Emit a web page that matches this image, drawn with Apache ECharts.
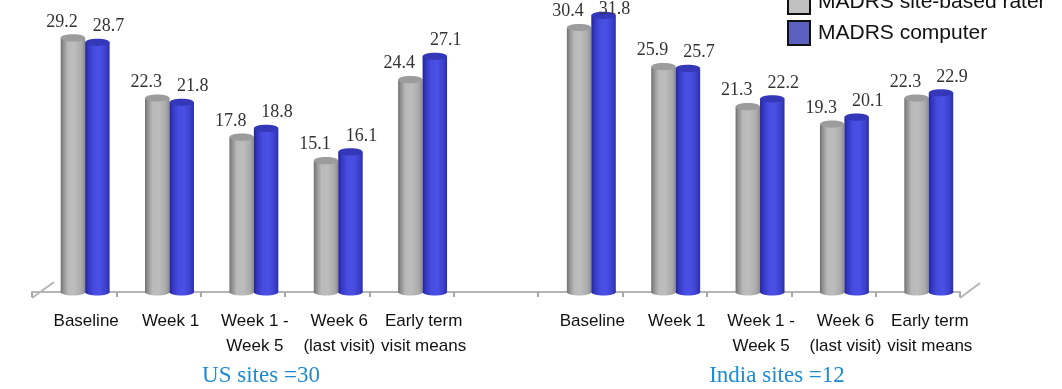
<!DOCTYPE html>
<html>
<head>
<meta charset="utf-8">
<script src="https://cdn.jsdelivr.net/npm/echarts@6/dist/echarts.min.js"></script>
<style>
  html, body { margin: 0; padding: 0; background: #ffffff; }
  #chart { width: 1062px; height: 389px; }
</style>
</head>
<body>
<div id="chart"></div>
<script>
// MADRS scores by visit, site-based rater vs. computer administered
const categories = ['Baseline', 'Week 1', 'Week 1 -\nWeek 5', 'Week 6\n(last visit)', 'Early term\nvisit means'];
const usRater = [29.2, 22.3, 17.8, 15.1, 24.4];
const usComputer = [28.7, 21.8, 18.8, 16.1, 27.1];
const indiaRater = [30.4, 25.9, 21.3, 19.3, 22.3];
const indiaComputer = [31.8, 25.7, 22.2, 20.1, 22.9];
const groupTitles = ['US sites =30', 'India sites =12'];
const seriesNames = ['MADRS site-based rater', 'MADRS computer'];

// One shared category axis: US block, an empty spacer slot, then the India block
const axisCategories = categories.concat([''], categories);
const indiaStart = categories.length + 1;

function toPairs(us, india) {
  return us.map((v, i) => [i, v]).concat(india.map((v, i) => [i + indiaStart, v]));
}

const palettes = [
  {
    body: [
      [0, '#6f6f6f'], [0.1, '#8e8e8e'], [0.3, '#b9b9b9'], [0.55, '#bdbdbd'],
      [0.85, '#aaaaaa'], [1, '#8a8a8a']
    ],
    top: '#9c9c9c',
    legend: '#c0c0c0'
  },
  {
    body: [
      [0, '#23238f'], [0.12, '#3336c0'], [0.35, '#474ce0'], [0.6, '#4a50e4'],
      [0.85, '#3c40cc'], [1, '#2c2ea6']
    ],
    top: '#3337b8',
    legend: '#5b60c0'
  }
];

// Draws a shaded cylinder seated half-way into the floor depth
function cylinder(side) {
  const pal = palettes[side];
  return function (params, api) {
    const idx = api.value(0);
    const val = api.value(1);
    const top = api.coord([idx, val]);
    const base = api.coord([idx, 0]);
    const band = api.size([1, 0])[0];
    const w = band * 0.29;
    const depth = band * 0.13;
    const cx = top[0] + depth + (side === 0 ? -w / 2 : w / 2);
    const ry = 3.6;
    const grad = () => new echarts.graphic.LinearGradient(0, 0, 1, 0,
      pal.body.map(s => ({ offset: s[0], color: s[1] })));
    const labelY = Math.max(top[1] - 16, 9);
    return {
      type: 'group',
      children: [
        { type: 'ellipse', shape: { cx: cx, cy: base[1], rx: w / 2, ry: ry }, style: { fill: grad() } },
        { type: 'rect', shape: { x: cx - w / 2, y: top[1], width: w, height: base[1] - top[1] }, style: { fill: grad() } },
        { type: 'ellipse', shape: { cx: cx, cy: top[1], rx: w / 2, ry: ry }, style: { fill: pal.top } },
        {
          type: 'text',
          x: cx + (side === 0 ? -11 : 11),
          y: labelY,
          style: {
            text: val.toFixed(1),
            align: 'center',
            verticalAlign: 'middle',
            font: '18px "Liberation Serif", "DejaVu Serif", serif',
            fill: '#333333'
          }
        }
      ]
    };
  };
}

const chart = echarts.init(document.getElementById('chart'), null, { renderer: 'canvas' });

chart.setOption({
  animation: false,
  backgroundColor: '#ffffff',
  grid: { left: 32, right: 102, top: 13.6, bottom: 97 },
  xAxis: {
    type: 'category',
    data: axisCategories,
    offset: 6,
    axisLine: { show: true, lineStyle: { color: '#b5b5b5', width: 2 } },
    axisTick: { show: true, interval: 0, length: 5, lineStyle: { color: '#a8a8a8', width: 2 } },
    axisLabel: {
      interval: 0,
      margin: 11,
      color: '#111111',
      fontFamily: '"Liberation Sans", Arial, sans-serif',
      fontSize: 17,
      lineHeight: 25,
      padding: [0, 0, 0, 24]
    }
  },
  yAxis: {
    type: 'value',
    min: 0,
    max: 32,
    show: false,
    splitLine: { show: false }
  },
  legend: {
    orient: 'vertical',
    left: 787,
    top: -11,
    padding: 0,
    itemWidth: 22,
    itemHeight: 24,
    itemGap: 5,
    icon: 'rect',
    itemStyle: { borderColor: '#111111', borderWidth: 2 },
    textStyle: {
      fontFamily: '"Liberation Sans", Arial, sans-serif',
      fontSize: 21,
      color: '#111111',
      padding: [0, 0, 0, 3]
    },
    data: [
      { name: seriesNames[0], itemStyle: { color: palettes[0].legend } },
      { name: seriesNames[1], itemStyle: { color: palettes[1].legend } }
    ]
  },
  graphic: [
    // floor side edges
    { type: 'line', shape: { x1: 32, y1: 298, x2: 54, y2: 282 }, style: { stroke: '#b5b5b5', lineWidth: 2 } },
    { type: 'line', shape: { x1: 960, y1: 298, x2: 980, y2: 283 }, style: { stroke: '#b5b5b5', lineWidth: 2 } },
    {
      type: 'text', x: 261, y: 376,
      style: { text: groupTitles[0], align: 'center', verticalAlign: 'middle',
        font: '23px "Liberation Serif", "DejaVu Serif", serif', fill: '#1e8bd2' }
    },
    {
      type: 'text', x: 777, y: 376,
      style: { text: groupTitles[1], align: 'center', verticalAlign: 'middle',
        font: '23px "Liberation Serif", "DejaVu Serif", serif', fill: '#1e8bd2' }
    }
  ],
  series: [
    {
      name: seriesNames[0],
      type: 'custom',
      itemStyle: { color: palettes[0].legend },
      renderItem: cylinder(0),
      encode: { x: 0, y: 1 },
      clip: false,
      data: toPairs(usRater, indiaRater)
    },
    {
      name: seriesNames[1],
      type: 'custom',
      itemStyle: { color: palettes[1].legend },
      renderItem: cylinder(1),
      encode: { x: 0, y: 1 },
      clip: false,
      data: toPairs(usComputer, indiaComputer)
    }
  ]
});
</script>
</body>
</html>
